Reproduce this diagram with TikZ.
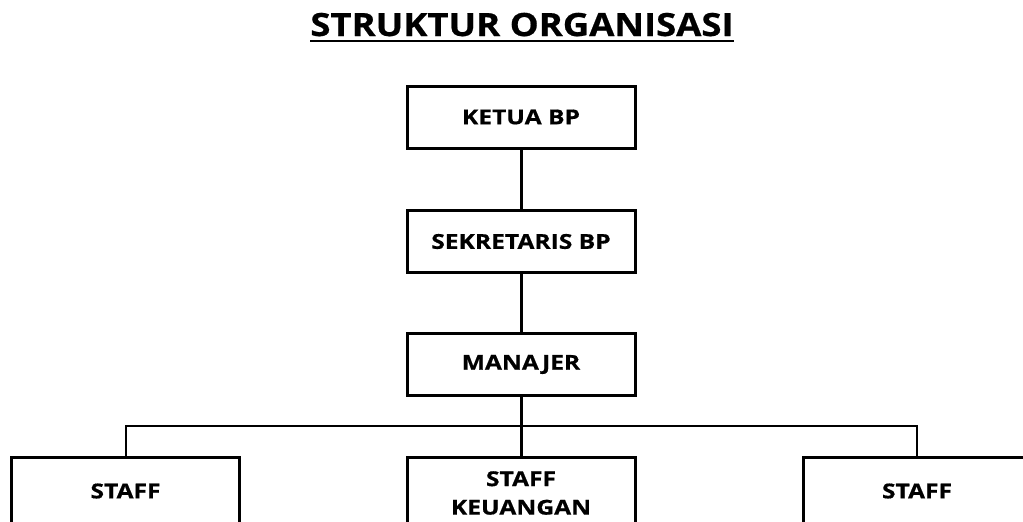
\documentclass[tikz,border=0pt]{standalone}
\usepackage{fontspec}
\setmainfont{Open Sans}
\newfontfamily\boxfont[FakeStretch=1.2,FakeBold=0.6]{Open Sans}
\newfontfamily\titlefont[FakeStretch=1.14,FakeBold=0.6]{Open Sans}
\begin{document}
\begin{tikzpicture}[x=1pt,y=-1pt,
  box/.style={draw=black,line width=3pt,minimum width=228pt,inner sep=0pt,align=center,font=\boxfont\bfseries\fontsize{20.5}{28.5}\selectfont},
  toprow/.style={box,minimum height=62pt},
  staffbox/.style={box,minimum height=68pt},
  conn/.style={line width=3pt},
  bus/.style={line width=2pt}]
\useasboundingbox (0,0) rectangle (1023,522);
\clip (0,0) rectangle (1023,522);
\node[font=\titlefont\bfseries\fontsize{32}{40}\selectfont,inner sep=0pt,anchor=base] (title) at (522,36) {STRUKTUR ORGANISASI};
\draw[line width=2pt] (title.base west) ++(0,5) -- ([yshift=-5pt]title.base east);
\node[toprow] (ketua) at (521,117) {KETUA BP};
\node[toprow] (sekr) at (521,241.5) {SEKRETARIS BP};
\node[toprow] (man) at (521,364.5) {MANAJER};
\node[staffbox] (s1) at (125.5,491) {STAFF};
\node[staffbox,minimum height=72pt] (s2) at (521,493) {STAFF\\KEUANGAN};
\node[staffbox] (s3) at (917,491) {STAFF};
\coordinate (bl) at (125.5,426);
\coordinate (br) at (917,426);
\draw[conn] (ketua) -- (sekr);
\draw[conn] (sekr) -- (man);
\draw[conn] (man) -- (s2);
\draw[bus] (s1.north) -- (bl) -- (br) -- (s3.north);
\end{tikzpicture}
\end{document}
